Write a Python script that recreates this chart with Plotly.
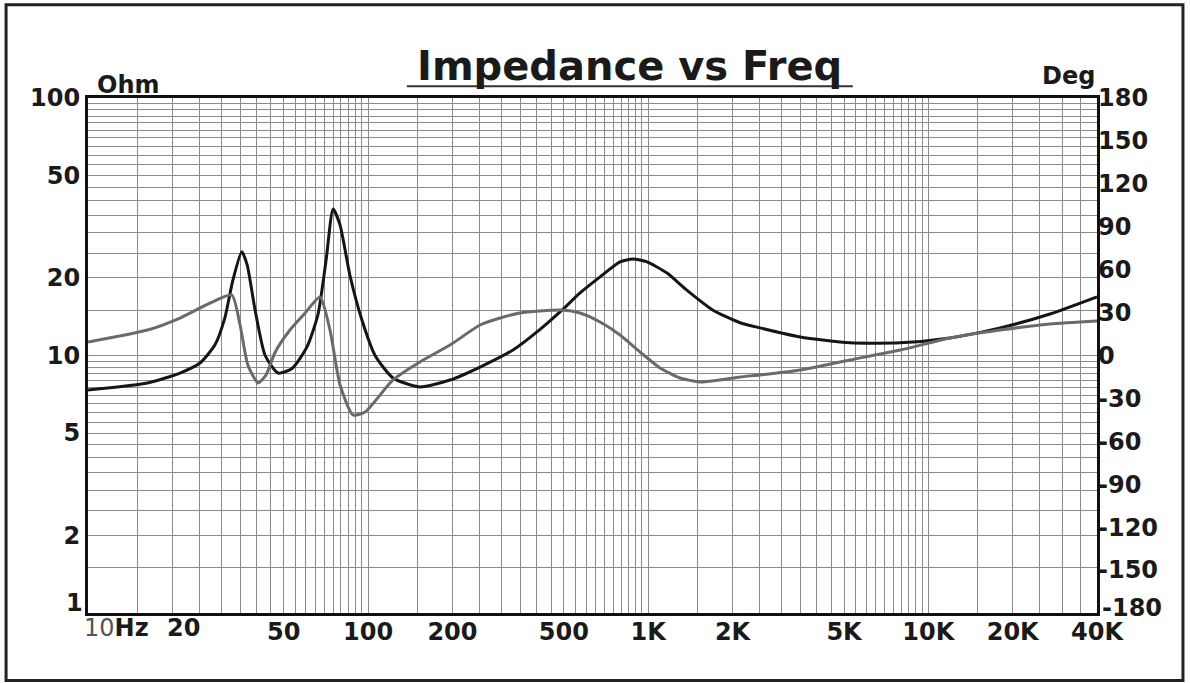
import plotly.graph_objects as go

# ---- data ----
imp_freq = [10, 16.3, 21.3, 25.1, 28.4, 30.8, 32.9, 35.4, 37.0, 39.5, 42.9, 47.7, 53.5, 60.5,
            66.2, 70.8, 75, 79.4, 86.1, 95.1, 105.9, 122.7, 153, 196, 251, 329, 410, 492, 571, 673,
            793, 883, 990, 1167, 1376, 1703, 2128, 2506, 3483, 5250, 7925, 11940, 18030, 27170, 40000]
imp_ohm = [7.35, 7.82, 8.55, 9.35, 11.0, 14.0, 19.6, 25.3, 22.5, 15.0, 10.0, 8.55, 8.9, 10.8,
           14.4, 23.5, 37.1, 32.1, 20.5, 13.7, 10.0, 8.18, 7.55, 8.03, 9.02, 10.5, 12.6, 15.0, 17.5, 20.2,
           23.1, 23.7, 23.1, 20.9, 17.9, 15.0, 13.4, 12.8, 11.8, 11.2, 11.2, 11.7, 12.8, 14.5, 16.9]

ph_freq = [10, 16.3, 21.3, 27.3, 32.6, 34.9, 37.2, 40.5, 43.2, 46.6, 52.6, 59.6, 67.3, 73.1,
           79.4, 88.3, 97.5, 122.7, 153, 196, 251, 296, 348, 411, 492, 571, 673, 793, 935, 1102,
           1299, 1531, 1804, 2128, 2506, 3483, 5250, 7925, 11940, 18030, 27170, 40000]
ph_deg = [9.4, 17.8, 26.2, 36.7, 42.3, 21.3, -6.6, -19.2, -13.6, 2.4, 17.8, 29.7, 40.9, 17.8,
          -20.6, -41.6, -39.5, -17.1, -4.5, 7.3, 21.3, 26.2, 29.7, 31.1, 31.8, 29.7, 23.4, 14.3, 2.4, -8.7,
          -15.7, -18.5, -17.1, -15.0, -13.6, -10.1, -3.1, 3.8, 12.2, 17.8, 22.0, 24.1]

x_label_vals = [50, 100, 200, 500, 1000, 2000, 5000, 10000, 20000, 40000]
x_label_text = ["50", "100", "200", "500", "1K", "2K", "5K", "10K", "20K", "40K"]
y_label_vals = [2, 5, 10, 20, 50, 100]
y_label_text = ["2", "5", "10", "20", "50", "100"]
deg_ticks = list(range(-150, 181, 30))

# ---- grid positions (log grid, half-unit steps per decade) ----
x_grid = []
for dec in [10, 100, 1000, 10000]:
    m = 1.0
    while m < 10 - 1e-9:
        v = round(dec * m, 6)
        if v <= 40000:
            x_grid.append(v)
        m += 0.5
x_text = [x_label_text[x_label_vals.index(v)] if v in x_label_vals else "" for v in x_grid]
if 40000 not in x_grid:
    x_grid.append(40000)
    x_text.append("40K")

y_grid = []
for dec in [1, 10]:
    m = 1.0
    while m < 10 - 1e-9:
        y_grid.append(round(dec * m, 6))
        m += 0.5
y_grid.append(100)
y_text = [y_label_text[y_label_vals.index(v)] if v in y_label_vals else "" for v in y_grid]

FONT = "DejaVu Sans"
TICKFONT = dict(family=FONT, size=24, color="#1a1a1a", weight="bold")
fig = go.Figure()
fig.add_trace(go.Scatter(x=ph_freq, y=ph_deg, mode="lines", yaxis="y2",
                         line=dict(color="#6a6a6a", width=3, shape="spline", smoothing=0.6),
                         showlegend=False, hoverinfo="skip"))
fig.add_trace(go.Scatter(x=imp_freq, y=imp_ohm, mode="lines",
                         line=dict(color="#151515", width=3, shape="spline", smoothing=0.6),
                         showlegend=False, hoverinfo="skip"))

fig.update_layout(
    width=1190, height=683,
    margin=dict(l=88, r=93, t=98, b=70),
    paper_bgcolor="white", plot_bgcolor="white",
    font=dict(family=FONT, color="#1a1a1a"),
    xaxis=dict(type="log", range=[1, 4.60206], tickvals=x_grid, ticktext=x_text,
               showgrid=True, gridcolor="#8a8a8a", gridwidth=1,
               showline=True, linecolor="#111", linewidth=3, mirror=True,
               ticks="", tickfont=TICKFONT, ticklabelstandoff=-5,
               zeroline=False, fixedrange=True),
    yaxis=dict(type="log", range=[0, 2], tickvals=y_grid, ticktext=y_text,
               showgrid=True, gridcolor="#8a8a8a", gridwidth=1,
               showline=True, linecolor="#111", linewidth=3, mirror=True,
               ticks="", tickfont=TICKFONT, zeroline=False, fixedrange=True),
    yaxis2=dict(overlaying="y", side="right", range=[-180, 180], tickvals=deg_ticks,
                ticktext=[str(v) for v in deg_ticks], showgrid=False, zeroline=False,
                ticks="", tickfont=TICKFONT, fixedrange=True),
)

# end labels raised slightly, as in the reference
fig.add_annotation(text="1", xref="paper", yref="y", x=0, y=0, xanchor="right", yanchor="middle",
                   xshift=-3, yshift=10, showarrow=False, font=TICKFONT)
fig.add_annotation(text="-180", xref="paper", yref="y2", x=1, y=-180, xanchor="left", yanchor="middle",
                   xshift=3, yshift=5, showarrow=False, font=TICKFONT)

# title, units, special x labels
fig.add_annotation(text="<b>Impedance vs Freq</b>", xref="paper", yref="paper",
                   x=0.537, y=1.062, xanchor="center", yanchor="middle", showarrow=False,
                   font=dict(family=FONT, size=40, color="#1a1a1a"))
fig.add_shape(type="line", xref="paper", yref="paper", x0=0.316, x1=0.758, y0=1.023, y1=1.023,
              line=dict(color="#333", width=2))
fig.add_annotation(text="<b>Ohm</b>", xref="paper", yref="paper", x=0.007, y=0.995,
                   xanchor="left", yanchor="bottom", showarrow=False,
                   font=dict(family=FONT, size=24, color="#1a1a1a"))
fig.add_annotation(text="<b>Deg</b>", xref="paper", yref="paper", x=1.0, y=1.012,
                   xanchor="right", yanchor="bottom", showarrow=False,
                   font=dict(family=FONT, size=24, color="#1a1a1a"))
fig.add_annotation(text="<span style='color:#555'>10</span><b>Hz</b>", x=1, xref="x", yref="paper",
                   y=0, yanchor="top", xanchor="left", xshift=-6, yshift=1, showarrow=False,
                   font=dict(family=FONT, size=24, color="#1a1a1a"))
fig.add_annotation(text="<b>20</b>", x=1.30103, xref="x", yref="paper",
                   y=0, yanchor="top", xanchor="center", xshift=11, yshift=1, showarrow=False,
                   font=dict(family=FONT, size=24, color="#1a1a1a"))

# outer frame
fig.add_shape(type="rect", xref="paper", yref="paper", x0=-0.0812, x1=1.0852, y0=-0.131, y1=1.181,
              line=dict(color="#222", width=3))

fig.write_html("out.html", config={"displayModeBar": False},
               post_script="document.body.style.margin='0';")
